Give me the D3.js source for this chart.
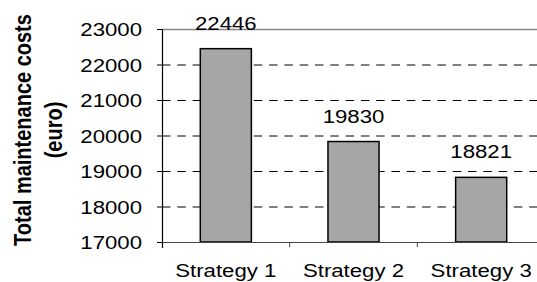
<!DOCTYPE html>
<html>
<head>
<meta charset="utf-8">
<script src="https://cdn.jsdelivr.net/npm/d3@7"></script>
<style>
  body { margin: 0; background: #fff; }
  text { font-family: "Liberation Sans", Arial, sans-serif; fill: #000; }
</style>
</head>
<body>
<svg id="chart" width="537" height="282"></svg>
<script>
const categories = ["Strategy 1", "Strategy 2", "Strategy 3"];
const costs = [22446, 19830, 18821];
const yTicks = [17000, 18000, 19000, 20000, 21000, 22000, 23000];
const yTitle = ["Total maintenance costs", "(euro)"];

const svg = d3.select("#chart");
const plotLeft = 162, plotRight = 545, plotTop = 29, plotBottom = 242;
const sx = 1.2; // the original text is a bit stretched sideways

const x = d3.scaleBand().domain(categories).range([plotLeft, plotRight])
  .paddingInner(0.6).paddingOuter(0.3);
const y = d3.scaleLinear().domain([17000, 23000]).range([plotBottom, plotTop]);

// dashed grid
svg.append("g").selectAll("line")
  .data(yTicks.filter(d => d > 17000 && d < 23000))
  .join("line")
  .attr("x1", plotLeft).attr("x2", plotRight)
  .attr("y1", d => y(d) + 0.5).attr("y2", d => y(d) + 0.5)
  .attr("stroke", "#000").attr("stroke-dasharray", "8.5,6.8");

// top frame line
svg.append("line")
  .attr("x1", plotLeft).attr("x2", plotRight)
  .attr("y1", y(23000) + 0.5).attr("y2", y(23000) + 0.5)
  .attr("stroke", "#888").attr("stroke-width", 1.5);

// bars
svg.append("g").selectAll("rect")
  .data(costs)
  .join("rect")
  .attr("x", (d, i) => x(categories[i]))
  .attr("y", d => y(d))
  .attr("width", x.bandwidth())
  .attr("height", d => y(17000) - y(d))
  .attr("fill", "#a6a6a6")
  .attr("stroke", "#000").attr("stroke-width", 1.5);

// value labels
svg.append("g").selectAll("text")
  .data(costs)
  .join("text")
  .attr("text-anchor", "middle")
  .attr("font-size", 18.5)
  .attr("transform", (d, i) => `translate(${x(categories[i]) + x.bandwidth() / 2},${y(d) - 19}) scale(${sx},1)`)
  .text(d => d);

// y axis
svg.append("line")
  .attr("x1", plotLeft + 0.5).attr("x2", plotLeft + 0.5)
  .attr("y1", plotTop).attr("y2", plotBottom + 6)
  .attr("stroke", "#000").attr("stroke-width", 1.2);
svg.append("g").selectAll("line")
  .data(yTicks)
  .join("line")
  .attr("x1", plotLeft - 5).attr("x2", plotLeft)
  .attr("y1", d => y(d) + 0.5).attr("y2", d => y(d) + 0.5)
  .attr("stroke", "#000");
svg.append("g").selectAll("text")
  .data(yTicks)
  .join("text")
  .attr("text-anchor", "end")
  .attr("dominant-baseline", "central")
  .attr("font-size", 18.5)
  .attr("transform", d => `translate(142,${y(d) + 1}) scale(${sx},1)`)
  .text(d => d);

// x axis
svg.append("line")
  .attr("x1", plotLeft).attr("x2", plotRight)
  .attr("y1", plotBottom + 0.5).attr("y2", plotBottom + 0.5)
  .attr("stroke", "#444").attr("stroke-width", 1.2);
const bounds = categories.map(c => x(c) - x.step() * x.paddingInner() / 2).slice(1);
svg.append("g").selectAll("line")
  .data(bounds)
  .join("line")
  .attr("x1", d => d).attr("x2", d => d)
  .attr("y1", plotBottom).attr("y2", plotBottom + 5)
  .attr("stroke", "#444");
svg.append("g").selectAll("text")
  .data(categories)
  .join("text")
  .attr("text-anchor", "middle")
  .attr("font-size", 18.5)
  .attr("transform", d => `translate(${x(d) + x.bandwidth() / 2},276.5) scale(${sx},1)`)
  .text(d => d);

// y title
svg.append("g").selectAll("text")
  .data(yTitle)
  .join("text")
  .attr("text-anchor", "middle")
  .attr("dominant-baseline", "central")
  .attr("font-size", 20)
  .attr("font-weight", "bold")
  .attr("transform", (d, i) => `translate(${22.5 + i * 31.5},130) scale(${sx},1) rotate(-90)`)
  .text(d => d);
</script>
</body>
</html>
